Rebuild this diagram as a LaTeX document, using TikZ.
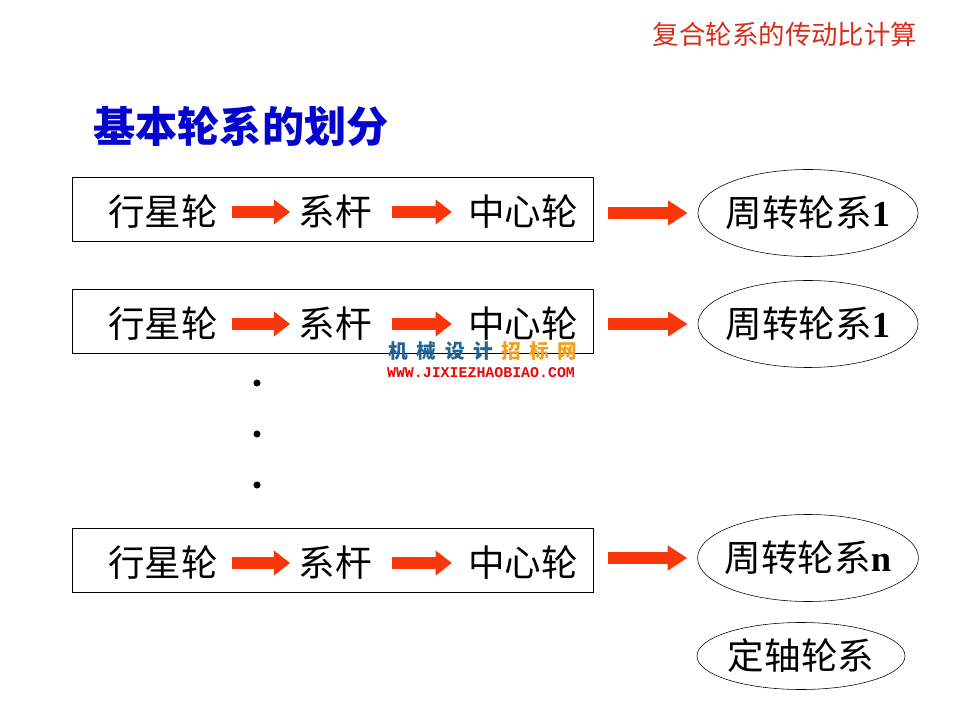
\documentclass[tikz,border=0pt]{standalone}
\usepackage{fontspec}
\setmainfont{Liberation Serif}
\newfontfamily\cjk{Noto Sans CJK SC}
\newfontfamily\urlfont{Liberation Mono}
\usetikzlibrary{arrows.meta, shapes.geometric}
\definecolor{arrowred}{RGB}{250,55,10}
\definecolor{titlered}{RGB}{215,45,25}
\definecolor{headblue}{RGB}{5,5,205}
\definecolor{markblue}{RGB}{30,100,150}
\definecolor{markorange}{RGB}{240,160,30}
\definecolor{markred}{RGB}{230,10,10}
\tikzset{
    titletext/.style={text=titlered, inner sep=0pt, font=\cjk\fontsize{18.8pt}{22pt}\selectfont},
    headtext/.style={text=headblue, inner sep=0pt, font=\cjk\bfseries\fontsize{30pt}{34pt}\selectfont},
    chainbox/.style={draw, thin, minimum width=13.025cm, minimum height=1.6cm, inner sep=0pt},
    gearlabel/.style={inner sep=0pt, font=\cjk\fontsize{26pt}{30pt}\selectfont},
    trainnode/.style={ellipse, draw, thin, minimum width=5.5cm, minimum height=2.175cm, inner xsep=-3.7pt, inner ysep=0pt, font=\cjk\fontsize{26pt}{30pt}\selectfont},
    smallarrow/.style={draw=arrowred, line width=8.5pt, -{Triangle[length=11.5pt, width=17pt]}, shorten <=0.35cm, shorten >=0.2cm},
    bigarrow/.style={draw=arrowred, line width=8.5pt, -{Triangle[length=14pt, width=17pt]}, shorten <=0.375cm, shorten >=0.25cm},
    dotmark/.style={circle, fill, inner sep=0pt, minimum size=5pt},
    markcn/.style={inner sep=0pt, font=\cjk\bfseries\fontsize{14pt}{16pt}\selectfont},
    markurl/.style={text=markred, inner sep=0pt, font=\urlfont\bfseries\fontsize{10.6pt}{12pt}\selectfont}
}
\begin{document}
\begin{tikzpicture}[x=0.025cm, y=-0.025cm]
    \useasboundingbox (0,0) rectangle (960,720);
    \node[titletext] (title) at (785,34) {复合轮系的传动比计算};
    \node[headtext] (head) at (241,126) {基本轮系的划分};
    % planet -> carrier -> sun, one row per train
    \foreach \n/\y/\e/\k in {1/209/213/1, 2/321/324/1, 3/560/558/n} {
        \node[chainbox] (box\n) at (332.5,\y) {};
        \node[gearlabel] (pl\n) at (163,\y+3) {行星轮};
        \node[gearlabel] (ca\n) at (335,\y+3) {系杆};
        \node[gearlabel] (su\n) at (523,\y+3) {中心轮};
        \draw[smallarrow] (pl\n.east) -- (ca\n.west);
        \draw[smallarrow, shorten <=0.5cm, shorten >=0.4cm] (ca\n.east) -- (su\n.west);
        \node[trainnode] (ep\n) at (808,\e) {周转轮系{\rmfamily\bfseries\k}};
        \draw[bigarrow] (box\n.east |- ep\n.west) -- (ep\n.west);
    }
    \node[dotmark] (d1) at (257,383) {};
    \node[dotmark] (d2) at (257,434) {};
    \node[dotmark] (d3) at (257,485) {};
    \node[trainnode, minimum width=5.2cm, minimum height=1.675cm, inner xsep=0pt] (fx) at (801,656) {定轴轮系};
    % site mark over the second box
    \node[markcn] (mark) at (483,351) {\textcolor{markblue}{机\hspace{6pt}械\hspace{6pt}设\hspace{6pt}计}\hspace{6pt}\textcolor{markorange}{招\hspace{6pt}标\hspace{6pt}网}};
    \node[markurl] (url) at (481,373) {WWW.JIXIEZHAOBIAO.COM};
\end{tikzpicture}
\end{document}
